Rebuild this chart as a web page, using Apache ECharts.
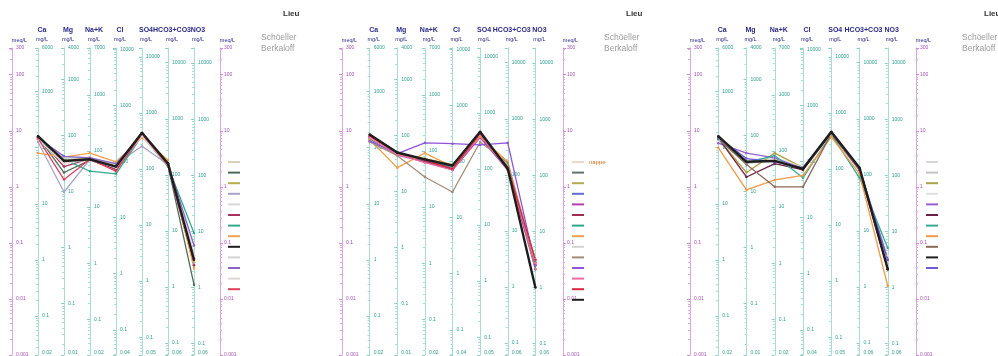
<!DOCTYPE html>
<html>
<head>
<meta charset="utf-8">
<script src="https://cdn.jsdelivr.net/npm/echarts@6/dist/echarts.min.js"></script>
<style>
  html, body { margin: 0; padding: 0; background: #ffffff; }
  #chart { width: 998px; height: 356px; }
</style>
</head>
<body>
<div id="chart"></div>
<script>
// Ion columns of the Schoeller-Berkaloff diagram and their equivalent weights (mg per meq)
const ions = ['Ca', 'Mg', 'Na+K', 'Cl', 'SO4', 'HCO3+CO3', 'NO3'];
const eqWeights = [20.04, 12.15, 23.0, 35.45, 48.03, 61.02, 62.0];
const meqRange = [0.001, 300];

// Analyses in meq/L, column order: Ca, Mg, Na+K, Cl, SO4, HCO3+CO3, NO3
const namesA = ['A01', 'A02', 'A03', 'A04', 'A05', 'A06', 'A07', 'A08', 'A09', 'A10', 'A11', 'A12', 'A13'];
const samplesA = [
  [7.6, 3.3, 3.1, 2.3, 8.6, 2.5, 0.06],
  [7.9, 1.8, 3.0, 2.1, 9.0, 2.4, 0.018],
  [7.3, 3.0, 3.2, 2.4, 8.2, 2.6, 0.045],
  [6.3, 0.81, 3.1, 2.6, 5.3, 2.5, 0.044],
  [7.4, 3.2, 3.0, 2.2, 8.4, 2.5, 0.055],
  [7.7, 2.3, 3.2, 2.0, 8.8, 2.4, 0.04],
  [7.1, 3.1, 1.9, 1.7, 8.1, 2.3, 0.15],
  [4.0, 3.4, 4.0, 2.8, 7.6, 3.0, 0.035],
  [8.0, 2.9, 3.1, 2.3, 9.2, 2.6, 0.05],
  [7.2, 3.3, 3.4, 2.5, 8.3, 2.7, 0.066],
  [7.5, 3.5, 3.3, 2.6, 8.5, 2.6, 0.09],
  [7.0, 2.6, 3.1, 2.2, 8.0, 2.4, 0.06],
  [7.3, 1.35, 3.1, 1.9, 8.7, 2.4, 0.053]
];

const namesB = ['nappe', 'B02', 'B03', 'B04', 'B05', 'B06', 'B07', 'B08', 'B09', 'B10', 'B11', 'B12', 'B13', 'B14'];
const samplesB = [
  [7.2, 3.8, 3.0, 2.4, 8.4, 2.2, 0.05],
  [7.8, 4.0, 2.9, 2.3, 9.0, 2.1, 0.045],
  [7.0, 3.9, 3.2, 2.5, 8.0, 2.4, 0.05],
  [7.5, 4.1, 3.1, 2.2, 8.6, 2.2, 0.04],
  [7.4, 3.7, 2.8, 2.0, 7.6, 2.0, 0.034],
  [7.9, 3.9, 2.9, 2.1, 8.2, 2.1, 0.04],
  [7.3, 4.0, 3.0, 2.3, 8.8, 2.3, 0.05],
  [7.0, 2.2, 4.0, 2.3, 7.8, 2.8, 0.044],
  [7.6, 3.8, 3.1, 2.4, 8.5, 2.2, 0.05],
  [6.3, 3.6, 1.5, 0.81, 6.3, 2.7, 0.034],
  [6.6, 3.9, 6.1, 5.9, 5.6, 6.1, 0.04],
  [7.7, 3.8, 2.7, 2.0, 8.4, 2.0, 0.044],
  [8.2, 4.0, 3.0, 2.1, 8.9, 2.2, 0.05],
  [8.6, 4.1, 3.1, 2.4, 9.6, 2.1, 0.016]
];

const namesC = ['C01', 'C02', 'C03', 'C04', 'C05', 'C06', 'C07', 'C08', 'C09', 'C10', 'C11'];
const samplesC = [
  [7.0, 2.9, 3.2, 2.1, 9.0, 2.0, 0.05],
  [6.8, 2.6, 3.0, 2.0, 8.6, 1.9, 0.045],
  [7.2, 1.8, 4.0, 2.2, 8.8, 2.1, 0.05],
  [6.5, 3.0, 3.4, 2.2, 8.2, 2.0, 0.06],
  [6.0, 4.0, 3.3, 2.1, 9.0, 2.1, 0.05],
  [7.5, 1.5, 2.6, 2.0, 9.2, 2.0, 0.034],
  [7.1, 2.7, 3.6, 1.45, 8.6, 1.45, 0.081],
  [5.0, 0.88, 1.33, 1.6, 7.8, 1.7, 0.017],
  [7.3, 2.5, 1.0, 1.0, 8.8, 2.0, 0.034],
  [8.0, 2.8, 2.9, 2.1, 9.6, 2.2, 0.034],
  [7.6, 3.2, 2.8, 2.2, 9.4, 2.1, 0.05]
];

// ---- styling ----
const colorsA = ['#d8d0bc', '#4f6a58', '#b8ad4a', '#a9a3c8', '#d8d8d8', '#a8325e', '#34a98e',
                 '#f0a24e', '#1e1e1e', '#d4d4d4', '#8a62c8', '#ded8d2', '#e0405c'];
const colorsB = ['#e6dcc8', '#5e7466', '#b5aa55', '#6070d0', '#b040b0', '#a03050', '#2fa58a',
                 '#eea04c', '#d2d2d2', '#a48c78', '#8d55dc', '#ec6e9e', '#d8283c', '#1e1e1e'];
const colorsC = ['#d6d6d6', '#c4c4c4', '#aca24a', '#e0e0e0', '#9a5fd0', '#6a2244', '#36ab95',
                 '#f09a48', '#8b6a58', '#1e1e1e', '#6e5ad6'];
const heavy = new Set(['A09', 'B14', 'C10']);

const panels = [
  { names: namesA, values: samplesA, colors: colorsA, left: 12, width: 208, legendLeft: 228, textLeft: 261 },
  { names: namesB, values: samplesB, colors: colorsB, left: 342, width: 221, legendLeft: 572, textLeft: 604 },
  { names: namesC, values: samplesC, colors: colorsC, left: 690, width: 226, legendLeft: 926, textLeft: 962 }
];

const FONT = '"Liberation Sans", Arial, sans-serif';
const NAVY = '#2a2a86';
const MEQ_LINE = '#dca6e0', MEQ_TICK = '#d08ad6', MEQ_TEXT = '#a24fb0';
const MG_LINE = '#a9dcd2', MG_TICK = '#8ccfc2', MG_TEXT = '#2e9e8e';

function roundLabel(v) {
  const r = Number(Number(v).toPrecision(1));
  return r ? String(r) : '';
}

function meqAxis(gridIndex, position) {
  return {
    type: 'log', logBase: 10, gridIndex, position, min: meqRange[0], max: meqRange[1], splitNumber: 5,
    name: 'meq/L', nameLocation: 'end', nameGap: 5,
    nameTextStyle: { color: NAVY, fontSize: 5.5, padding: [0, 0, 0, 15] },
    axisLine: { show: true, lineStyle: { color: MEQ_LINE, width: 1 } },
    axisTick: { show: true, length: 3, lineStyle: { color: MEQ_TICK } },
    minorTick: { show: true, splitNumber: 10, length: 2, lineStyle: { color: MEQ_LINE } },
    splitLine: { show: false },
    axisLabel: {
      inside: position === 'left', margin: 4, fontSize: 5, color: MEQ_TEXT, formatter: roundLabel,
      showMinLabel: true, showMaxLabel: true
    }
  };
}

function mgAxis(gridIndex, k, step) {
  const w = eqWeights[k];
  const max = meqRange[1] * w;
  const lead = max / Math.pow(10, Math.floor(Math.log10(max)));
  return {
    type: 'log', logBase: 10, gridIndex, position: 'left', offset: -(k + 1) * step,
    min: meqRange[0] * w, max: max, splitNumber: 5,
    name: '{h|' + ions[k] + '}\n{u|mg/L}', nameLocation: 'end', nameGap: 5,
    nameTextStyle: {
      padding: [0, 0, 0, 8],
      rich: {
        h: { fontSize: 7, fontWeight: 'bold', color: NAVY, lineHeight: 10, fontFamily: FONT },
        u: { fontSize: 5.5, color: NAVY, lineHeight: 8, fontFamily: FONT }
      }
    },
    axisLine: { show: true, lineStyle: { color: MG_LINE, width: 1 } },
    axisTick: { show: true, length: 3, lineStyle: { color: MG_TICK } },
    minorTick: { show: true, splitNumber: 10, length: 2, lineStyle: { color: MG_LINE } },
    splitLine: { show: false },
    axisLabel: {
      inside: true, margin: 4, fontSize: 5, color: MG_TEXT, formatter: roundLabel,
      showMinLabel: true, showMaxLabel: lead >= 2.5, verticalAlignMinLabel: 'bottom'
    }
  };
}

const grids = [], xAxes = [], yAxes = [], series = [], legends = [], graphics = [];

panels.forEach((p, pi) => {
  const step = p.width / 8;
  grids.push({ left: p.left, width: p.width, top: 48, bottom: 1, containLabel: false, outerBoundsMode: 'none' });
  xAxes.push({ type: 'value', gridIndex: pi, min: 0, max: 8, show: false });
  const base = yAxes.length;
  yAxes.push(meqAxis(pi, 'left'));
  ions.forEach((_, k) => yAxes.push(mgAxis(pi, k, step)));
  yAxes.push(meqAxis(pi, 'right'));

  p.names.forEach((name, si) => {
    const color = p.colors[si];
    series.push({
      type: 'line', name, xAxisIndex: pi, yAxisIndex: base,
      data: p.values[si].map((v, i) => [i + 1, v]),
      symbol: 'circle', symbolSize: 2.5, showSymbol: true,
      lineStyle: { width: heavy.has(name) ? 2.4 : 1.3, color },
      itemStyle: { color },
      z: heavy.has(name) ? 4 : 3,
      silent: true, animation: false
    });
  });

  legends.push({
    orient: 'vertical', left: p.legendLeft, top: 158, padding: 0,
    itemWidth: 12, itemHeight: 2, itemGap: 2.6, icon: 'rect', selectedMode: false,
    data: p.names.map(n => n === 'nappe' ? { name: n, textStyle: { color: '#d2701e' } } : { name: n }),
    formatter: n => (n === 'nappe' ? n : ' '),
    textStyle: { fontSize: 6, lineHeight: 8, color: '#d2701e', fontFamily: FONT }
  });

  graphics.push(
    { type: 'text', left: p.textLeft + 22, top: 10, silent: true,
      style: { text: 'Lieu', font: 'bold 8px ' + FONT, fill: '#333333' } },
    { type: 'text', left: p.textLeft, top: 32, silent: true,
      style: { text: 'Schöeller\nBerkaloff', font: '8.5px ' + FONT, fill: '#9c9c9c', lineHeight: 11 } }
  );
});

const chart = echarts.init(document.getElementById('chart'), null, { renderer: 'canvas' });
chart.setOption({
  animation: false,
  backgroundColor: '#ffffff',
  textStyle: { fontFamily: FONT },
  grid: grids,
  xAxis: xAxes,
  yAxis: yAxes,
  legend: legends,
  graphic: graphics,
  series: series
});
</script>
</body>
</html>
